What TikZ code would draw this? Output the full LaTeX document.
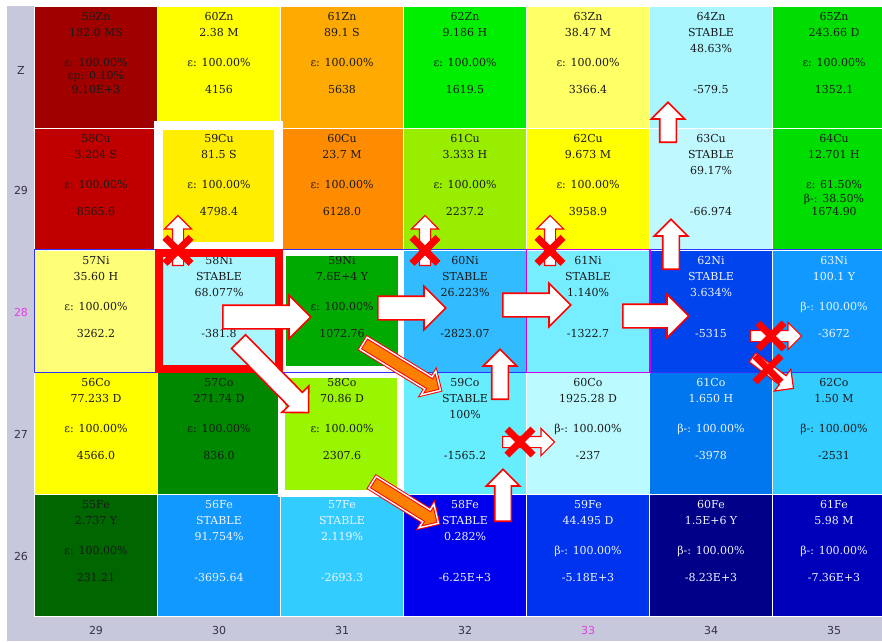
\documentclass[tikz,border=0pt]{standalone}
\usepackage{fontspec}
\setmainfont{DejaVu Serif}
\setsansfont{DejaVu Sans}
\usetikzlibrary{calc, shapes.arrows, shapes.misc}

\definecolor{axisbg}{HTML}{C8C8DC}
\definecolor{axisink}{HTML}{333344}
\definecolor{axismark}{HTML}{E040E0}
\definecolor{inkdark}{HTML}{1A1A1A}
\definecolor{inklight}{HTML}{EEF4FF}
\definecolor{rowline}{HTML}{3030FF}
\definecolor{oddline}{HTML}{CC00EE}

% one nuclide cell: name, column, row, fill (hex), ink, half-life, abundance, decay, value
\newcommand{\nuc}[9]{%
  \definecolor{bg#1}{HTML}{#4}%
  \node (#1) [cell, fill=bg#1] at ({96+123*#2}, {67+122*#3}) {};
  \node (#1-a) [txt, #5] at ([yshift=-15pt]#1.north) {#1};
  \node (#1-b) [txt, #5] at ([yshift=-31pt]#1.north) {#6};
  \node (#1-c) [txt, #5] at ([yshift=-47pt]#1.north) {#7};
  \node (#1-d) [txt, #5] at ([yshift=-61pt]#1.north) {#8};
  \node (#1-e) [txt, #5] at ([yshift=-88pt]#1.north) {#9};
}

% block arrow from one point to another
\newcommand{\bigarrow}[4][flow]{%
  \path let \p1 = (#3), \p2 = (#4) in
    node (#2) [#1, anchor=tail, rotate={atan2((\y2)-(\y1),(\x2)-(\x1))},
      minimum height={veclen((\x2)-(\x1),(\y2)-(\y1))}] at (\p1) {};
}

\begin{document}
\begin{tikzpicture}[
    x=1pt, y=-1pt,
    cell/.style={
        draw=white,
        line width=0.8pt,
        minimum width=123pt,
        minimum height=122pt,
        inner sep=0pt
    },
    txt/.style={
        anchor=base,
        inner sep=0pt,
        font=\fontsize{11}{12}\selectfont
    },
    dk/.style={text=inkdark},
    lt/.style={text=inklight},
    axis/.style={
        font=\sffamily\fontsize{11}{12}\selectfont,
        text=axisink
    },
    flow/.style={
        single arrow,
        draw=red,
        fill=white,
        line width=1.6pt,
        inner xsep=0pt,
        inner ysep=11pt,
        single arrow head extend=10pt
    },
    rise/.style={flow, inner ysep=7.5pt, single arrow head extend=8.5pt},
    slant/.style={flow, inner ysep=9pt, single arrow head extend=9pt},
    feed/.style={
        single arrow,
        draw=red,
        double=white,
        double distance=1.4pt,
        line width=1pt,
        fill=orange,
        inner xsep=0pt,
        inner ysep=6.5pt,
        single arrow head extend=7pt
    },
    blocked/.style={
        single arrow,
        draw=red,
        fill=white,
        line width=1.2pt,
        inner xsep=0pt,
        inner ysep=5pt,
        single arrow head extend=8pt
    },
    veto/.style={
        cross out,
        draw=red,
        line width=7pt,
        minimum size=19pt,
        inner sep=0pt
    },
    whiteframe/.style={draw=white, line width=#1}
]

\useasboundingbox (0,0) rectangle (882,641);
\fill[white] (0,0) rectangle (882,641);
\fill[axisbg] (7,6) rectangle (882,641);

% Cells
\nuc{59Zn}{0}{0}{A00000}{dk}{182.0 MS}{}{ε: 100.00\%}{9.10E+3}
\node (59Zn-f) [txt, dk] at ([yshift=-74pt]59Zn.north) {εp: 0.10\%};
\nuc{60Zn}{1}{0}{FFFF00}{dk}{2.38 M}{}{ε: 100.00\%}{4156}
\nuc{61Zn}{2}{0}{FFAA00}{dk}{89.1 S}{}{ε: 100.00\%}{5638}
\nuc{62Zn}{3}{0}{00EE00}{dk}{9.186 H}{}{ε: 100.00\%}{1619.5}
\nuc{63Zn}{4}{0}{FFFF66}{dk}{38.47 M}{}{ε: 100.00\%}{3366.4}
\nuc{64Zn}{5}{0}{AAF6FF}{dk}{STABLE}{48.63\%}{}{-579.5}
\nuc{65Zn}{6}{0}{00DD00}{dk}{243.66 D}{}{ε: 100.00\%}{1352.1}

\nuc{58Cu}{0}{1}{C00000}{dk}{3.204 S}{}{ε: 100.00\%}{8565.6}
\nuc{59Cu}{1}{1}{FFEE00}{dk}{81.5 S}{}{ε: 100.00\%}{4798.4}
\nuc{60Cu}{2}{1}{FF8C00}{dk}{23.7 M}{}{ε: 100.00\%}{6128.0}
\nuc{61Cu}{3}{1}{99EE00}{dk}{3.333 H}{}{ε: 100.00\%}{2237.2}
\nuc{62Cu}{4}{1}{FFFF00}{dk}{9.673 M}{}{ε: 100.00\%}{3958.9}
\nuc{63Cu}{5}{1}{C0F8FF}{dk}{STABLE}{69.17\%}{}{-66.974}
\nuc{64Cu}{6}{1}{00DD00}{dk}{12.701 H}{}{ε: 61.50\%}{1674.90}
\node (64Cu-f) [txt, dk] at ([yshift=-75pt]64Cu.north) {β-: 38.50\%};

\nuc{57Ni}{0}{2}{FFFF77}{dk}{35.60 H}{}{ε: 100.00\%}{3262.2}
\nuc{58Ni}{1}{2}{AAF6FF}{dk}{STABLE}{68.077\%}{}{-381.8}
\nuc{59Ni}{2}{2}{00AA00}{dk}{7.6E+4 Y}{}{ε: 100.00\%}{1072.76}
\nuc{60Ni}{3}{2}{33BBFF}{dk}{STABLE}{26.223\%}{}{-2823.07}
\nuc{61Ni}{4}{2}{77EEFF}{dk}{STABLE}{1.140\%}{}{-1322.7}
\nuc{62Ni}{5}{2}{0044EE}{lt}{STABLE}{3.634\%}{}{-5315}
\nuc{63Ni}{6}{2}{1199FF}{lt}{100.1 Y}{}{β-: 100.00\%}{-3672}

\nuc{56Co}{0}{3}{FFFF00}{dk}{77.233 D}{}{ε: 100.00\%}{4566.0}
\nuc{57Co}{1}{3}{008800}{dk}{271.74 D}{}{ε: 100.00\%}{836.0}
\nuc{58Co}{2}{3}{99F500}{dk}{70.86 D}{}{ε: 100.00\%}{2307.6}
\nuc{59Co}{3}{3}{66EEFF}{dk}{STABLE}{100\%}{}{-1565.2}
\nuc{60Co}{4}{3}{BBFBFF}{dk}{1925.28 D}{}{β-: 100.00\%}{-237}
\nuc{61Co}{5}{3}{0077EE}{lt}{1.650 H}{}{β-: 100.00\%}{-3978}
\nuc{62Co}{6}{3}{33CCFF}{dk}{1.50 M}{}{β-: 100.00\%}{-2531}

\nuc{55Fe}{0}{4}{006600}{dk}{2.737 Y}{}{ε: 100.00\%}{231.21}
\nuc{56Fe}{1}{4}{1199FF}{lt}{STABLE}{91.754\%}{}{-3695.64}
\nuc{57Fe}{2}{4}{33CCFF}{lt}{STABLE}{2.119\%}{}{-2693.3}
\nuc{58Fe}{3}{4}{0000EE}{lt}{STABLE}{0.282\%}{}{-6.25E+3}
\nuc{59Fe}{4}{4}{0033EE}{lt}{44.495 D}{}{β-: 100.00\%}{-5.18E+3}
\nuc{60Fe}{5}{4}{000088}{lt}{1.5E+6 Y}{}{β-: 100.00\%}{-8.23E+3}
\nuc{61Fe}{6}{4}{0000BB}{lt}{5.98 M}{}{β-: 100.00\%}{-7.36E+3}

% Axes
\node (rZ) [axis] at (21,70) {Z};
\node (r29) [axis] at (21,190) {29};
\node (r28) [axis, text=axismark] at (21,312) {28};
\node (r27) [axis] at (21,434) {27};
\node (r26) [axis] at (21,556) {26};
\foreach \n [count=\i from 0] in {29,30,31,32,34,35}
    \node (c\n) [axis] at ({96+123*\i+123*(\i>3)}, 630) {\n};
\node (c33) [axis, text=axismark] at (588,630) {33};

% Frames
\draw[whiteframe=9pt] ([shift={(1,-2)}]59Cu.north west) rectangle ([shift={(-2,-4)}]59Cu.south east);
\draw[whiteframe=6pt] ([shift={(3,3)}]59Ni.north west) rectangle ([shift={(-3,-3)}]59Ni.south east);
\draw[whiteframe=7pt] ([shift={(1,3)}]58Co.north west) rectangle ([shift={(-3,-1)}]58Co.south east);
\draw[rowline, line width=1pt] (57Ni.north west) rectangle (882,372);
\draw[oddline, line width=1.2pt] (61Ni.north west) rectangle (61Ni.south east);
\draw[red, line width=8pt] ([shift={(2,3)}]58Ni.north west) rectangle ([shift={(-2,-3)}]58Ni.south east);

% Paths
\bigarrow{a1}{$(58Ni)+(3,6)$}{$(59Ni)+(-32,6)$}
\bigarrow{a2}{$(59Ni)+(35,-3)$}{$(60Ni)+(-20,-3)$}
\bigarrow{a3}{$(60Ni)+(37,-6)$}{$(61Ni)+(-18,-6)$}
\bigarrow{a4}{$(61Ni)+(34,5)$}{$(62Ni)+(-23,5)$}
\bigarrow[slant]{a5}{$(58Ni)+(19,30)$}{$(58Co)+(-34,-21)$}
\bigarrow[feed]{a6}{$(59Ni)+(21,32)$}{$(59Co)+(-25,-43)$}
\bigarrow[feed]{a7}{$(58Co)+(30,49)$}{$(58Fe)+(-27,-32)$}
\bigarrow[rise]{a8}{$(58Fe)+(38,-33)$}{$(59Co)+(38,37)$}
\bigarrow[rise]{a9}{$(59Co)+(35,-33)$}{$(60Ni)+(35,39)$}
\bigarrow[rise]{a10}{$(62Ni)+(-40,-41)$}{$(63Cu)+(-40,31)$}
\bigarrow[rise]{a11}{$(63Cu)+(-43,-46)$}{$(64Zn)+(-43,36)$}

% Blocked paths
\bigarrow[blocked]{b1}{$(58Ni)+(-41,-45)$}{$(59Cu)+(-41,27)$}
\node (x1) [veto] at ($(59Cu.south)+(-41,0)$) {};
\bigarrow[blocked]{b2}{$(60Ni)+(-40,-45)$}{$(61Cu)+(-40,27)$}
\node (x2) [veto] at ($(61Cu.south)+(-40,0)$) {};
\bigarrow[blocked]{b3}{$(61Ni)+(-38,-45)$}{$(62Cu)+(-38,27)$}
\node (x3) [veto] at ($(62Cu.south)+(-38,0)$) {};
\bigarrow[blocked]{b4}{$(59Co)+(37,9)$}{$(60Co)+(-34,9)$}
\node (x4) [veto] at ($(59Co)+(55,9)$) {};
\bigarrow[blocked]{b5}{$(62Ni)+(39,25)$}{$(63Ni)+(-33,25)$}
\node (x5) [veto] at ($(62Ni)+(60,25)$) {};
\bigarrow[blocked]{b6}{$(62Ni)+(41,46)$}{$(62Co)+(-41,-45)$}
\node (x6) [veto] at ($(62Ni)+(57,58)$) {};

\end{tikzpicture}
\end{document}
